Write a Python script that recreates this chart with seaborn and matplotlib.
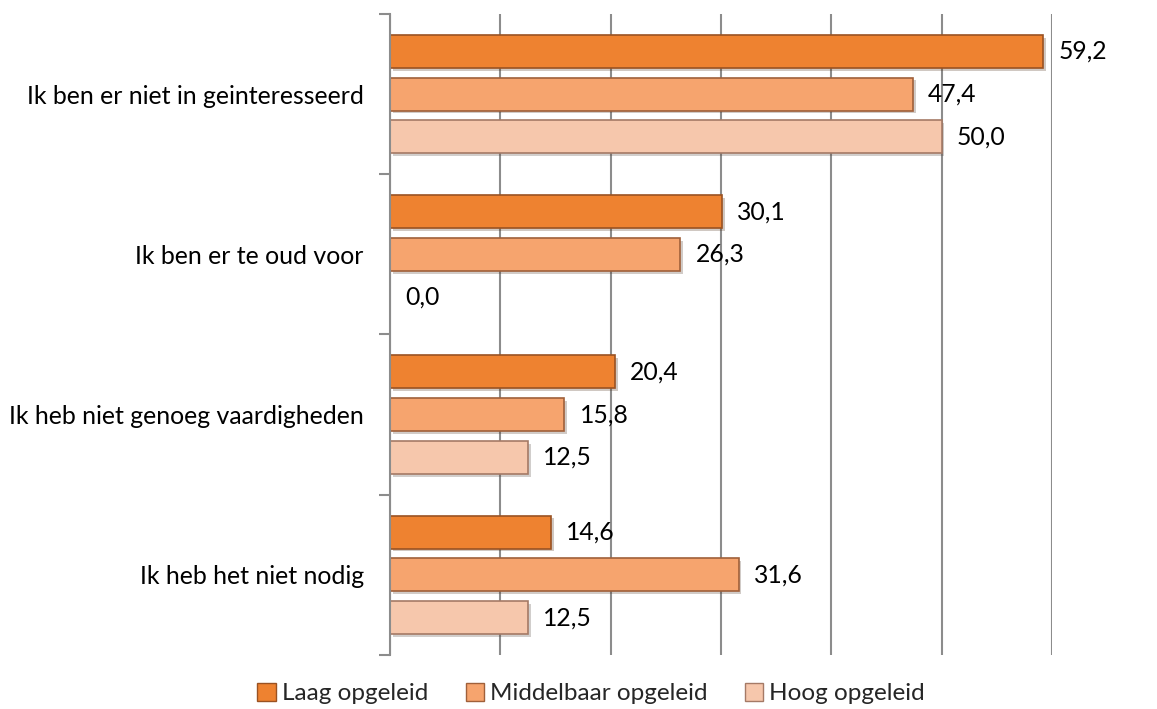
import matplotlib
matplotlib.use("Agg")
import matplotlib.pyplot as plt
import matplotlib.patheffects as pe
from matplotlib.patches import Patch
from matplotlib.ticker import FixedLocator, MultipleLocator
import pandas as pd
import seaborn as sns

categories = [
    "Ik ben er niet in geinteresseerd",
    "Ik ben er te oud voor",
    "Ik heb niet genoeg vaardigheden",
    "Ik heb het niet nodig",
]
series = ["Laag opgeleid", "Middelbaar opgeleid", "Hoog opgeleid"]
laag = [59.2, 30.1, 20.4, 14.6]
middel = [47.4, 26.3, 15.8, 31.6]
hoog = [50.0, 0.0, 12.5, 12.5]

colors = ["#EE8230", "#F6A46E", "#F6C7AC"]
edges = ["#9A5222", "#A0603A", "#A57A66"]

df = pd.DataFrame({
    "categorie": categories * 3,
    "groep": [s for s in series for _ in categories],
    "pct": laag + middel + hoog,
})

sns.set_style("white")
plt.rcParams["font.family"] = ["Lato", "DejaVu Sans"]

fig = plt.figure(figsize=(11.57, 7.09), dpi=100)
ax = fig.add_axes([0.3371, 0.0762, 0.9092 - 0.3371, 0.9803 - 0.0762])

sns.barplot(data=df, y="categorie", x="pct", hue="groep", order=categories,
            hue_order=series, palette=colors, saturation=1, orient="h", width=0.8,
            legend=False, ax=ax)

bar_h = 0.205
for i, cont in enumerate(ax.containers):
    for p in cont.patches:
        c = p.get_y() + p.get_height() / 2
        p.set_y(c - bar_h / 2)
        p.set_height(bar_h)
        p.set_edgecolor(edges[i])
        p.set_linewidth(1.2)
        p.set_path_effects([pe.SimplePatchShadow(offset=(2, -2), alpha=0.25), pe.Normal()])
    labels = [f"{v:.1f}".replace(".", ",") for v in cont.datavalues]
    ax.bar_label(cont, labels=labels, padding=11, fontsize=17.8, color="#000000")

ax.set_xlim(0, 60)
ax.set_ylim(3.5, -0.5)
ax.xaxis.set_major_locator(MultipleLocator(10))
ax.grid(axis="x", color="#8C8C8C", linewidth=1.5)
ax.set_axisbelow(True)
ax.tick_params(axis="x", length=0, labelbottom=False)

ax.yaxis.set_minor_locator(FixedLocator([-0.5, 0.5, 1.5, 2.5, 3.5]))
ax.tick_params(axis="y", which="minor", left=True, length=8, width=1.5,
               color="#8C8C8C", direction="out")
ax.tick_params(axis="y", which="major", length=0, pad=19, labelsize=17.9,
               labelcolor="#000000")
ax.set_xlabel("")
ax.set_ylabel("")

for s in ["top", "right", "bottom"]:
    ax.spines[s].set_visible(False)
ax.spines["left"].set_color("#8C8C8C")
ax.spines["left"].set_linewidth(1.5)

handles = [Patch(facecolor=colors[i], edgecolor=edges[i], label=series[i]) for i in range(3)]
fig.legend(handles=handles, loc="center", bbox_to_anchor=(0.511, 0.022), ncol=3,
           frameon=False, fontsize=17.5, handlelength=0.75, handleheight=0.75,
           handletextpad=0.25, columnspacing=1.55)

fig.savefig("out.png", dpi=100)
